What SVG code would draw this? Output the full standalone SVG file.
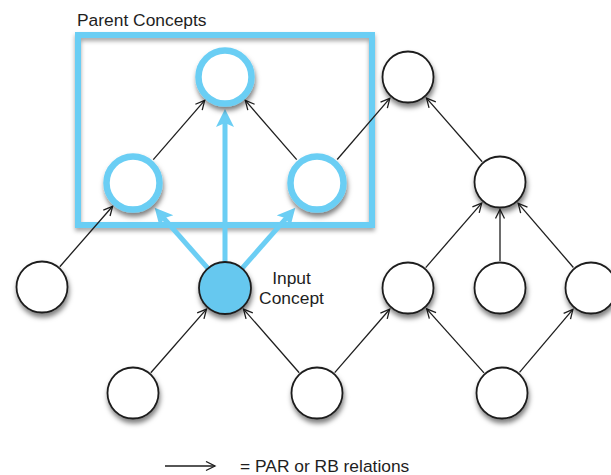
<svg xmlns="http://www.w3.org/2000/svg" width="611" height="475" viewBox="0 0 611 475">
  <style>
    .txt { font-family: "Liberation Sans", Arial, sans-serif; font-size: 17.4px; fill: #1e1e1e; }
    .node { fill: #ffffff; stroke: #1e1e1e; stroke-width: 1.8; }
    .parent { fill: #ffffff; stroke: #6BCEF4; stroke-width: 6.5; }
    .input { fill: #66C8EF; stroke: #1e1e1e; stroke-width: 1.8; }
    .rel { stroke: #1e1e1e; stroke-width: 1.3; fill: none; marker-end: url(#open); }
    .hl { stroke: #6BCEF4; stroke-width: 5; fill: none; marker-end: url(#solid); }
  </style>
  <defs>
    <marker id="open" markerUnits="userSpaceOnUse" markerWidth="13" markerHeight="12" refX="10" refY="5.5" orient="auto">
      <path d="M1,1 L10,5.5 L1,10" fill="none" stroke="#1e1e1e" stroke-width="1.3"/>
    </marker>
    <marker id="solid" markerUnits="userSpaceOnUse" markerWidth="20" markerHeight="20" refX="6" refY="9" orient="auto">
      <path d="M0,0 L18,9 L0,18 L4,9 z" fill="#6BCEF4"/>
    </marker>
    <filter id="shadow" x="-30%" y="-30%" width="160%" height="170%">
      <feDropShadow dx="1" dy="4" stdDeviation="2.5" flood-color="#000" flood-opacity="0.5"/>
    </filter>
    <filter id="boxshadow" x="-10%" y="-10%" width="120%" height="120%">
      <feDropShadow dx="0" dy="3" stdDeviation="2" flood-color="#000" flood-opacity="0.35"/>
    </filter>
  </defs>

  <!-- grouping frame around the parent concepts -->
  <g id="parent-frame">
    <rect x="78" y="35" width="294" height="190" fill="none" stroke="#6BCEF4" stroke-width="6" filter="url(#boxshadow)"/>
    <text class="txt" x="77" y="26">Parent Concepts</text>
  </g>

  <!-- relation arrows -->
  <g id="connectors">
    <line class="rel" x1="59.8" y1="266.7" x2="112.6" y2="206.3"/>
    <line class="rel" x1="153.3" y1="159.6" x2="204.7" y2="100.4"/>
    <line class="rel" x1="296.7" y1="159.6" x2="245.3" y2="100.4"/>
    <line class="rel" x1="337.2" y1="159.5" x2="389.8" y2="98.3"/>
    <line class="rel" x1="150.8" y1="372.7" x2="206.5" y2="309.1"/>
    <line class="rel" x1="299.2" y1="372.7" x2="243.5" y2="309.1"/>
    <line class="rel" x1="334.7" y1="372.6" x2="389.7" y2="309.2"/>
    <line class="rel" x1="425.7" y1="267.6" x2="481.7" y2="203.1"/>
    <line class="rel" x1="500" y1="261" x2="500" y2="209.5"/>
    <line class="rel" x1="573.4" y1="267.5" x2="518.2" y2="203.3"/>
    <line class="rel" x1="482.2" y1="161.7" x2="426.5" y2="98.1"/>
    <line class="rel" x1="484" y1="372.9" x2="426.7" y2="308.9"/>
    <line class="rel" x1="519.5" y1="372.4" x2="572.9" y2="309.4"/>
    <!-- highlighted links from the input concept -->
    <line class="hl" x1="225" y1="262" x2="225" y2="121"/>
    <line class="hl" x1="207.9" y1="268.4" x2="162.6" y2="216.8"/>
    <line class="hl" x1="242.1" y1="268.4" x2="287.4" y2="216.8"/>
  </g>

  <!-- concept nodes -->
  <g id="parent-top" filter="url(#shadow)"><circle class="parent" cx="225" cy="77" r="26.5"/></g>
  <g id="parent-left" filter="url(#shadow)"><circle class="parent" cx="133" cy="183" r="26.5"/></g>
  <g id="parent-right" filter="url(#shadow)"><circle class="parent" cx="317" cy="183" r="26.5"/></g>
  <g id="node-top-right" filter="url(#shadow)"><circle class="node" cx="408" cy="77" r="25.5"/></g>
  <g id="node-mid-right" filter="url(#shadow)"><circle class="node" cx="500" cy="182" r="25.5"/></g>
  <g id="node-left" filter="url(#shadow)"><circle class="node" cx="42" cy="287" r="25.5"/></g>
  <g id="input-concept">
    <circle class="input" cx="225" cy="288" r="26" filter="url(#shadow)"/>
    <text class="txt" x="291.5" y="284" text-anchor="middle">Input</text>
    <text class="txt" x="291.5" y="304" text-anchor="middle">Concept</text>
  </g>
  <g id="node-r3a" filter="url(#shadow)"><circle class="node" cx="408" cy="288" r="25.5"/></g>
  <g id="node-r3b" filter="url(#shadow)"><circle class="node" cx="500" cy="288" r="25.5"/></g>
  <g id="node-r3c" filter="url(#shadow)"><circle class="node" cx="591" cy="288" r="25.5"/></g>
  <g id="node-b1" filter="url(#shadow)"><circle class="node" cx="133" cy="393" r="25.5"/></g>
  <g id="node-b2" filter="url(#shadow)"><circle class="node" cx="317" cy="393" r="25.5"/></g>
  <g id="node-b3" filter="url(#shadow)"><circle class="node" cx="502" cy="393" r="25.5"/></g>

  <!-- legend -->
  <g id="legend">
    <line class="rel" x1="165" y1="466" x2="215" y2="466"/>
    <text class="txt" x="240" y="472">= PAR or RB relations</text>
  </g>
</svg>
